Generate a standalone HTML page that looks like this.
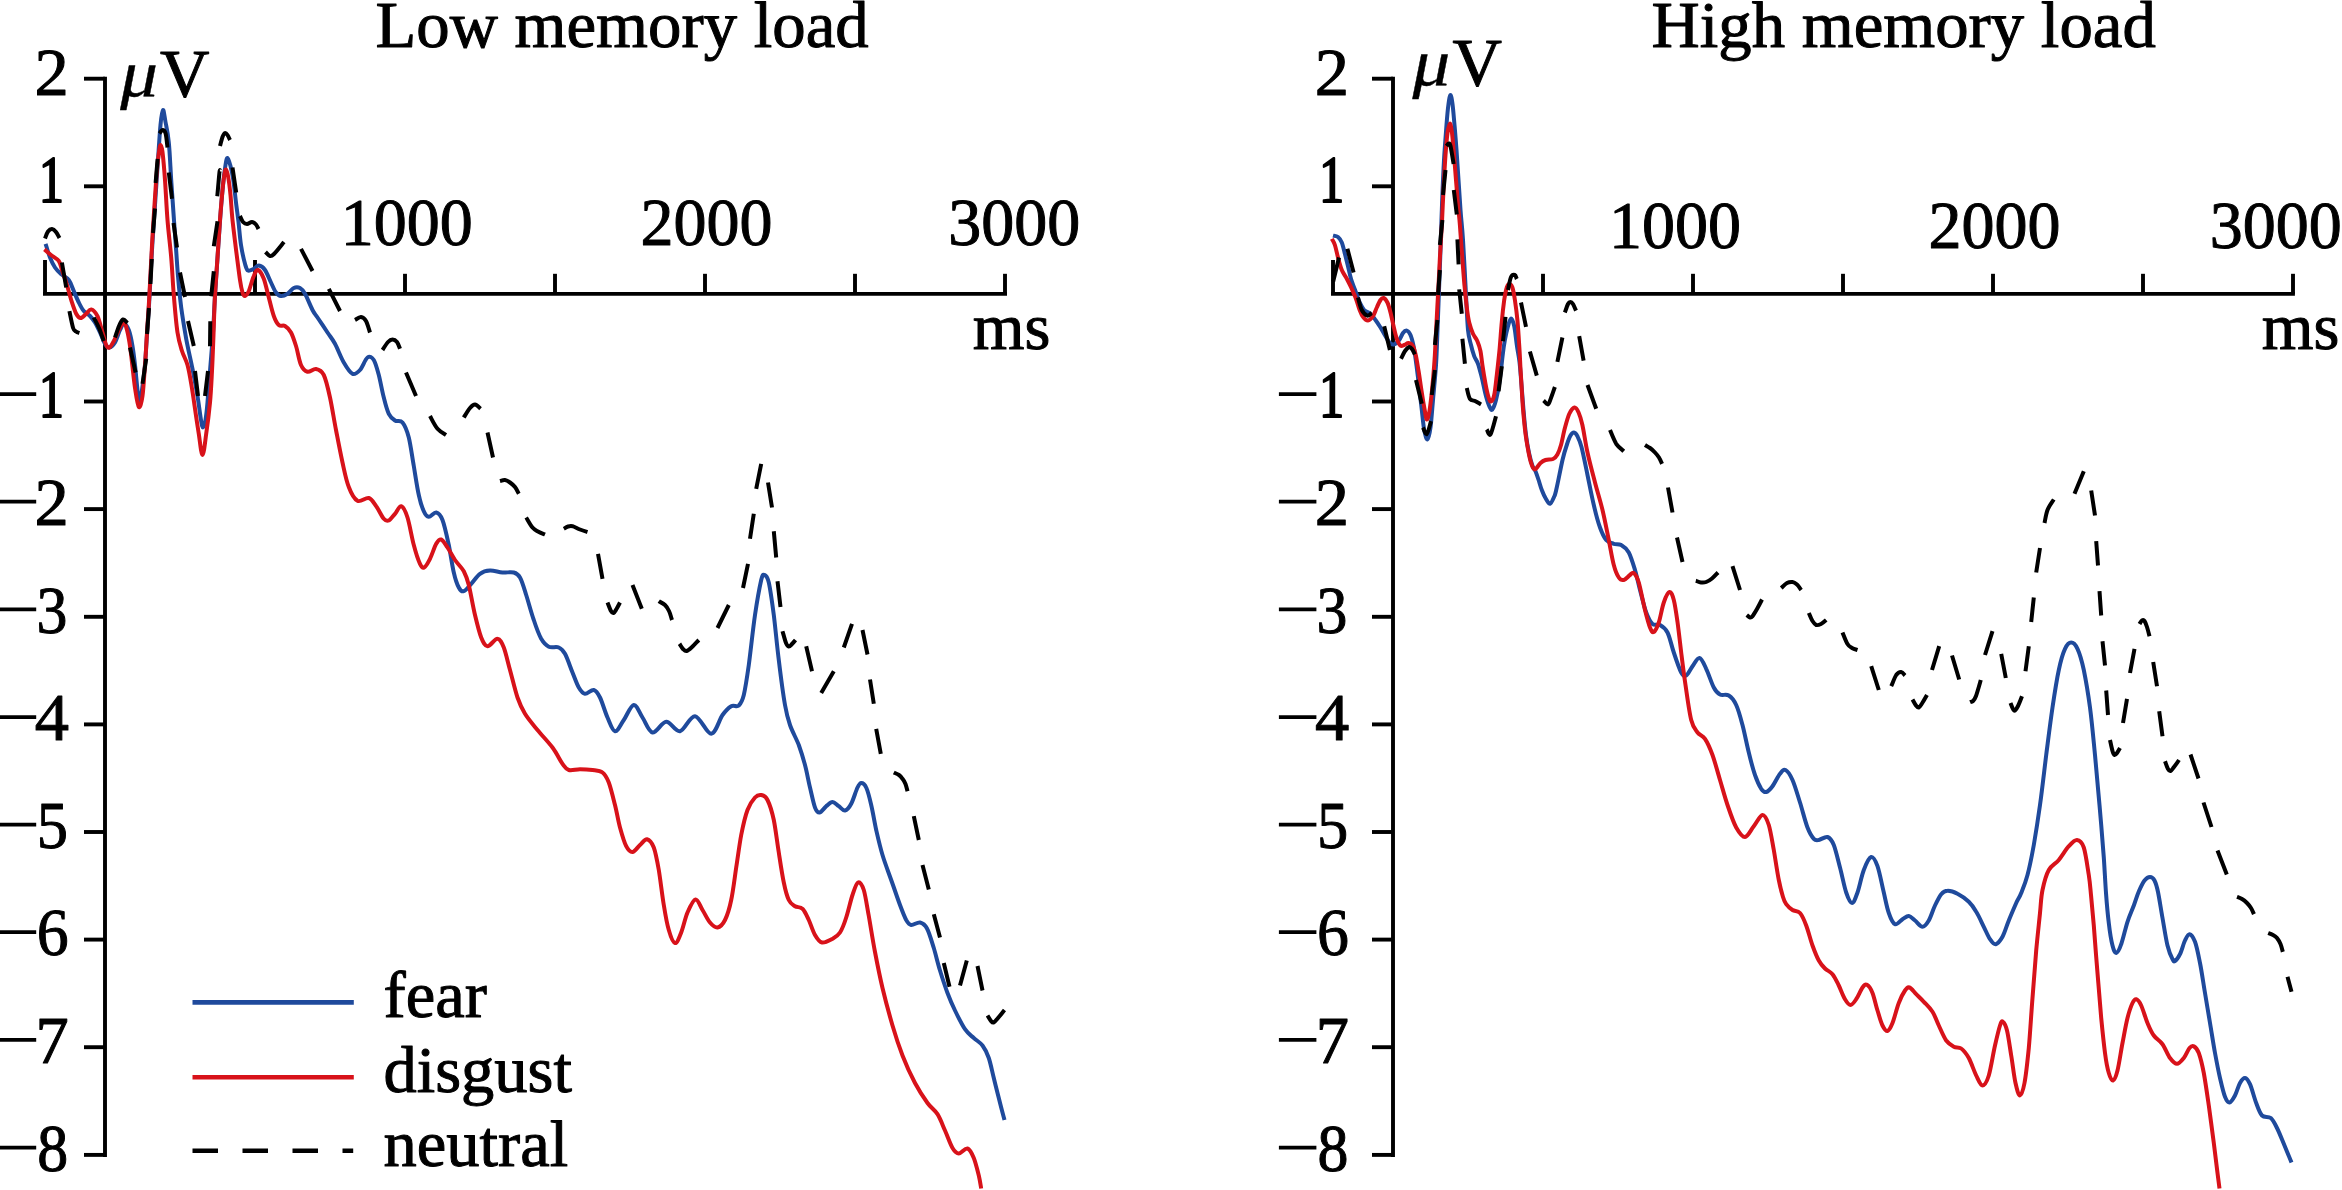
<!DOCTYPE html>
<html><head><meta charset="utf-8"><title>ERP</title>
<style>html,body{margin:0;padding:0;background:#fff;overflow:hidden}svg{display:block;}</style>
</head><body>
<svg width="2342" height="1190" viewBox="0 0 2342 1190">
<rect width="2342" height="1190" fill="#fff"/>
<g fill="none" stroke="#000" stroke-width="3.9" stroke-linecap="butt">
<path d="M105 76.8V1157" />
<path d="M43 293.9H1007" />
<path d="M84 78.7H105" />
<path d="M84 186.3H105" />
<path d="M84 401.5H105" />
<path d="M84 509.1H105" />
<path d="M84 616.8H105" />
<path d="M84 724.4H105" />
<path d="M84 832H105" />
<path d="M84 939.6H105" />
<path d="M84 1047.2H105" />
<path d="M84 1154.9H105" />
<path d="M45 260V293.9" />
<path d="M255 260V293.9" />
<path d="M405 273.8V293.9" />
<path d="M555 273.8V293.9" />
<path d="M705 273.8V293.9" />
<path d="M855 273.8V293.9" />
<path d="M1005 273.8V293.9" />
<path d="M1393 76.8V1157" />
<path d="M1331 293.9H2294.9" />
<path d="M1372 78.7H1393" />
<path d="M1372 186.3H1393" />
<path d="M1372 401.5H1393" />
<path d="M1372 509.1H1393" />
<path d="M1372 616.8H1393" />
<path d="M1372 724.4H1393" />
<path d="M1372 832H1393" />
<path d="M1372 939.6H1393" />
<path d="M1372 1047.2H1393" />
<path d="M1372 1154.9H1393" />
<path d="M1333 260V293.9" />
<path d="M1543 273.8V293.9" />
<path d="M1693 273.8V293.9" />
<path d="M1843 273.8V293.9" />
<path d="M1993 273.8V293.9" />
<path d="M2143 273.8V293.9" />
<path d="M2293 273.8V293.9" />
</g>
<g font-family="'Liberation Serif', serif" font-size="66.5" fill="#000" stroke="#000" stroke-width="1.0" stroke-linejoin="round">
<text transform="translate(68.7 94.5) scale(1.03 1.005)" text-anchor="end">2</text>
<text transform="translate(64.1 202.1) scale(0.76 1.005)" text-anchor="end" stroke-width="2">1</text>
<text transform="translate(64.1 417.3) scale(0.76 1.005)" text-anchor="end" stroke-width="2">1</text>
<path stroke-width="3.75" d="M-1.3 394.1H36.2" />
<text transform="translate(68.7 524.9) scale(1.03 1.005)" text-anchor="end">2</text>
<path stroke-width="3.75" d="M-1.3 501.7H36.2" />
<text transform="translate(67.3 632.6) scale(0.93 1.005)" text-anchor="end">3</text>
<path stroke-width="3.75" d="M-1.3 609.4H36.2" />
<text transform="translate(69 740.2) scale(1.03 1.005)" text-anchor="end">4</text>
<path stroke-width="3.75" d="M-1.3 717H36.2" />
<text transform="translate(68 847.8) scale(0.94 1.005)" text-anchor="end">5</text>
<path stroke-width="3.75" d="M-1.3 824.6H36.2" />
<text transform="translate(68.7 955.4) scale(0.96 1.005)" text-anchor="end">6</text>
<path stroke-width="3.75" d="M-1.3 932.2H36.2" />
<text transform="translate(68.7 1063) scale(1.0 1.005)" text-anchor="end">7</text>
<path stroke-width="3.75" d="M-1.3 1039.8H36.2" />
<text transform="translate(68.2 1170.7) scale(0.93 1.005)" text-anchor="end">8</text>
<path stroke-width="3.75" d="M-1.3 1147.5H36.2" />
<text transform="translate(1348.9 94.5) scale(1.03 1.005)" text-anchor="end">2</text>
<text transform="translate(1344.3 202.1) scale(0.76 1.005)" text-anchor="end" stroke-width="2">1</text>
<text transform="translate(1344.3 417.3) scale(0.76 1.005)" text-anchor="end" stroke-width="2">1</text>
<path stroke-width="3.75" d="M1278.9 394.1H1316.4" />
<text transform="translate(1348.9 524.9) scale(1.03 1.005)" text-anchor="end">2</text>
<path stroke-width="3.75" d="M1278.9 501.7H1316.4" />
<text transform="translate(1347.5 632.6) scale(0.93 1.005)" text-anchor="end">3</text>
<path stroke-width="3.75" d="M1278.9 609.4H1316.4" />
<text transform="translate(1349.2 740.2) scale(1.03 1.005)" text-anchor="end">4</text>
<path stroke-width="3.75" d="M1278.9 717H1316.4" />
<text transform="translate(1348.2 847.8) scale(0.94 1.005)" text-anchor="end">5</text>
<path stroke-width="3.75" d="M1278.9 824.6H1316.4" />
<text transform="translate(1348.9 955.4) scale(0.96 1.005)" text-anchor="end">6</text>
<path stroke-width="3.75" d="M1278.9 932.2H1316.4" />
<text transform="translate(1348.9 1063) scale(1.0 1.005)" text-anchor="end">7</text>
<path stroke-width="3.75" d="M1278.9 1039.8H1316.4" />
<text transform="translate(1348.4 1170.7) scale(0.93 1.005)" text-anchor="end">8</text>
<path stroke-width="3.75" d="M1278.9 1147.5H1316.4" />
<text transform="translate(375.5 46.8) scale(1.004 1.0)">Low memory load</text>
<text transform="translate(1651.5 46.9) scale(1.004 1.0)">High memory load</text>
<text transform="translate(340.7 245) scale(0.992 1.02)">1000</text>
<text transform="translate(640.6 245) scale(0.992 1.02)">2000</text>
<text transform="translate(948.3 245) scale(0.992 1.02)">3000</text>
<text x="972.8" y="349">ms</text>
<text transform="translate(1609 248.2) scale(0.992 1.02)">1000</text>
<text transform="translate(1928.5 248.2) scale(0.992 1.02)">2000</text>
<text transform="translate(2209.8 248.2) scale(0.992 1.02)">3000</text>
<text x="2261.7" y="348.5">ms</text>
<text transform="translate(120.3 95.6) scale(1.13 1.0)" font-style="italic" stroke-width="0.4">μ</text>
<text transform="translate(160 95.6) scale(1.03 1.03)">V</text>
<text transform="translate(1412.4 84.8) scale(1.13 1.0)" font-style="italic" stroke-width="0.4">μ</text>
<text transform="translate(1452.4 84.8) scale(1.03 1.03)">V</text>
<text x="383.5" y="1017.2">fear</text>
<text x="383.5" y="1091.8">disgust</text>
<text x="383.5" y="1166.2">neutral</text>
</g>
<g fill="none" stroke-width="4.0" stroke-linejoin="round" stroke-linecap="butt">
<path stroke="#1f4a9c" d="M45.6 243.8C46.3 246 48.4 253.5 50 257.5C51.6 261.5 53.2 264.8 55 267.5C56.8 270.2 58.7 271.9 61 274C63.3 276.1 66.6 277.2 68.8 280C70.9 282.8 72.1 287.2 73.8 291C75.4 294.8 77.1 299.2 78.8 302.5C80.4 305.8 81.9 308.8 83.8 311C85.6 313.2 88.1 314.1 90 316C91.9 317.9 93.3 319.8 95 322.5C96.7 325.2 98.3 329 100 332.5C101.7 336 103.4 341.2 105 343.8C106.6 346.2 107.7 347.7 109.4 347.5C111.1 347.3 113.2 345.4 115 342.5C116.8 339.6 118.5 333.1 120 330C121.5 326.9 122.3 323.8 123.8 323.8C125.2 323.8 127.3 326.3 128.8 330C130.2 333.7 131.5 340.2 132.5 346C133.5 351.8 134.2 357.7 135 365C135.8 372.3 136.8 384 137.5 390C138.2 396 138.7 401 139.4 401C140.2 401 141.1 396 142 390C142.9 384 144.2 374.2 145 365C145.8 355.8 146.2 346.3 147 335C147.8 323.7 148.7 311.2 149.5 297C150.3 282.8 151.1 265.3 152 250C152.9 234.7 154 220 155 205C156 190 157.1 173.3 158 160C158.9 146.7 159.7 133.3 160.5 125C161.3 116.7 162.2 110.5 163 110C163.8 109.5 164.5 116.6 165.5 122C166.5 127.4 167.9 132.8 168.8 142.5C169.8 152.2 170.4 167.5 171.2 180C172 192.5 173 205.7 173.8 217.5C174.6 229.3 175.6 241.2 176.2 251C176.9 260.8 177.2 266.6 178 276C178.8 285.4 179.9 297 181.2 307.5C182.6 318 184.4 328.5 186.2 338.8C188.1 349 190.6 359.5 192.5 369C194.4 378.5 196.1 387.5 197.5 396C198.9 404.5 200.1 414.8 201 420C201.9 425.2 202.2 427.5 203 427.5C203.8 427.5 204.8 424.2 205.5 420C206.2 415.8 206.8 410.7 207.5 402.5C208.2 394.3 209.1 382.6 210 371C210.9 359.4 212.2 345.5 213 333C213.8 320.5 214.2 308.5 215 296C215.8 283.5 216.7 270.5 217.5 258C218.3 245.5 219.1 233.2 220 221C220.9 208.8 222.1 194.3 223 185C223.9 175.7 224.8 169.5 225.5 165C226.2 160.5 226.7 157.8 227.5 158C228.3 158.2 229.5 162.3 230.5 166C231.5 169.7 232.3 173.5 233.3 180C234.3 186.5 235.4 198 236.3 205C237.2 212 237.7 215.3 238.5 222C239.3 228.7 239.9 238 241 245C242.1 252 243.8 259.5 245 263.8C246.2 268 246.5 269.8 248 270.6C249.5 271.4 252 269.6 253.8 268.8C255.5 267.9 256.9 265.4 258.8 265.6C260.6 265.8 263 267.2 265 270C267 272.8 269.2 278.8 271 282.5C272.8 286.2 274.3 290.2 276 292.5C277.7 294.8 279.1 295.8 281 296C282.9 296.2 285.4 295.1 287.5 293.8C289.6 292.4 291.7 289 293.8 288C295.8 287 298.1 287 300 288C301.9 289 302.9 290.1 305 293.8C307.1 297.4 310.4 306 312.5 310C314.6 314 315 313.8 317.5 317.5C320 321.2 324.6 328.1 327.5 332.5C330.4 336.9 332.3 338.8 335 343.8C337.7 348.8 340.8 357.5 343.8 362.5C346.7 367.5 349.8 372.5 352.5 373.8C355.2 375 357.5 372.7 360 370C362.5 367.3 365.2 359.2 367.5 357.5C369.8 355.8 371.9 357.1 373.8 360C375.6 362.9 377.1 368.8 378.8 375C380.4 381.2 382.1 391 383.8 397.5C385.4 404 386.9 409.9 388.8 413.8C390.6 417.6 392.7 419 395 420.5C397.3 422 400.2 419.7 402.5 422.5C404.8 425.3 406.9 430.2 408.8 437.5C410.6 444.8 412.1 456.4 413.8 466C415.4 475.6 417.1 487.5 418.8 495C420.4 502.5 422.1 507.6 423.8 511.2C425.4 514.9 426.7 516.5 428.8 516.8C430.8 517 434 512 436.2 512.5C438.5 513 440.4 514.6 442.5 520C444.6 525.4 446.9 536.2 448.8 545C450.6 553.8 452.1 565.4 453.8 572.5C455.4 579.6 457.1 584.4 458.8 587.5C460.4 590.6 461.7 591.9 463.8 591.2C465.8 590.6 468.5 586.7 471.2 583.8C474 580.8 476.9 576 480 573.8C483.1 571.5 486.2 570.7 490 570.5C493.8 570.3 498.5 572.2 502.5 572.5C506.5 572.8 510.8 571.7 513.8 572.5C516.7 573.3 517.9 573.8 520 577.5C522.1 581.2 524 587.9 526.2 595C528.5 602.1 531.2 612.7 533.8 620C536.2 627.3 538.8 634.3 541.2 638.8C543.8 643.2 545.8 645.3 548.8 646.8C551.7 648.2 556 646.3 558.8 647.5C561.5 648.7 562.7 649.6 565 653.8C567.3 657.9 570.2 666.9 572.5 672.5C574.8 678.1 576.7 684 578.8 687.5C580.8 691 582.5 693.3 585 693.8C587.5 694.2 591.2 689.4 593.8 690C596.2 690.6 597.7 692.9 600 697.5C602.3 702.1 605 711.9 607.5 717.5C610 723.1 612.3 730.8 615 731.2C617.7 731.7 620.6 724.4 623.8 720C626.9 715.6 630.6 705.4 633.8 705C636.9 704.6 639.4 712.9 642.5 717.5C645.6 722.1 648.5 731.8 652.5 732.5C656.5 733.2 661.7 722 666.2 721.8C670.8 721.5 675.2 732.2 680 731.2C684.8 730.3 689.8 715.8 695 716.2C700.2 716.7 706.7 734 711.2 733.8C715.8 733.5 719.2 719.6 722.5 715C725.8 710.4 728.5 707.8 731.2 706.2C734 704.7 736.7 707.4 738.8 705.5C740.8 703.6 742.1 701.8 743.8 695C745.4 688.2 746.9 678.3 748.8 665C750.6 651.7 752.9 629.2 755 615C757.1 600.8 759.7 586.7 761.2 580C762.8 573.3 763.2 574.6 764.5 575C765.8 575.4 767.2 575.8 768.8 582.5C770.3 589.2 772.1 602.1 773.8 615C775.4 627.9 776.9 645 778.8 660C780.6 675 783.1 694.2 785 705C786.9 715.8 787.7 718.3 790 725C792.3 731.7 796.2 738.3 798.8 745C801.2 751.7 803.1 757.9 805 765C806.9 772.1 808.3 780.4 810 787.5C811.7 794.6 813.4 803.3 815 807.5C816.6 811.7 817.6 812.7 819.5 812.5C821.4 812.3 824.1 808 826.2 806.2C828.4 804.5 830.4 802 832.5 802C834.6 802 836.7 804.8 838.8 806.2C840.8 807.7 842.9 810.9 845 810.5C847.1 810.1 849.2 807.6 851.2 803.8C853.3 799.9 855.8 791 857.5 787.5C859.2 784 859.8 783 861.2 783C862.7 783 864.6 783.8 866.2 787.5C867.9 791.2 869.6 797.9 871.2 805C872.9 812.1 874.4 821.7 876.2 830C878.1 838.3 880 846.7 882.5 855C885 863.3 888.3 871.7 891.2 880C894.2 888.3 897.5 898.3 900 905C902.5 911.7 904.4 916.7 906.2 920C908.1 923.3 909 924.6 911.2 925C913.5 925.4 917.4 921.9 920 922.5C922.6 923.1 924.7 924.2 927 928.5C929.3 932.8 931.6 941 933.8 948C935.9 955 937.7 963 940 970.5C942.3 978 945 986.3 947.5 993C950 999.7 952.1 1004.5 955 1010.5C957.9 1016.5 961.9 1024.7 965 1029.2C968.1 1033.8 970.8 1035.3 973.8 1038C976.7 1040.7 980 1042.2 982.5 1045.5C985 1048.8 986.9 1052.6 988.8 1058C990.6 1063.4 992.1 1071.3 993.8 1078C995.4 1084.7 997 1091 998.8 1098C1000.5 1105 1003.5 1116.3 1004.5 1120"/>
<path stroke="#1f4a9c" d="M1333 235.6C1333.8 235.8 1336.5 235.8 1338 237C1339.5 238.2 1340.6 239.7 1341.8 242.5C1342.9 245.3 1343.9 249.8 1344.9 253.8C1345.9 257.7 1347 262.1 1348 266.2C1349 270.4 1349.8 274.6 1351 278.8C1352.2 282.9 1354.1 287.5 1355.5 291.2C1356.9 295 1357.8 298.1 1359.2 301.2C1360.7 304.4 1362.4 307.9 1364.2 310C1366.1 312.1 1368.6 312.1 1370.5 313.8C1372.4 315.4 1373.8 317.7 1375.5 320C1377.2 322.3 1378.8 324.8 1380.5 327.5C1382.2 330.2 1383.9 333.7 1385.5 336.2C1387.1 338.8 1388.4 341.6 1389.9 343C1391.4 344.4 1392.7 344.9 1394.2 344.4C1395.8 343.9 1397.8 341.9 1399.2 340C1400.7 338.1 1401.8 334.6 1403 333C1404.2 331.4 1405.5 330.3 1406.8 330.6C1408 330.9 1409.4 332.4 1410.5 335C1411.6 337.6 1412.7 341.8 1413.6 346.2C1414.5 350.8 1415.3 356.8 1416 362C1416.7 367.2 1417 369.5 1418 377.5C1419 385.5 1420.7 401.2 1421.8 410C1422.8 418.8 1423.3 425.1 1424.2 430C1425.2 434.9 1426.4 439.9 1427.4 439.5C1428.4 439.1 1429.6 434.1 1430.5 427.5C1431.4 420.9 1432.1 410.4 1433 400C1433.9 389.6 1435.2 376.7 1436 365C1436.8 353.3 1437 342.5 1437.5 330C1438 317.5 1438.5 303.3 1439 290C1439.5 276.7 1440 264.2 1440.5 250C1441 235.8 1441.4 220 1442 205C1442.6 190 1443.2 173.3 1444 160C1444.8 146.7 1445.8 134.3 1446.5 125C1447.2 115.7 1447.8 109 1448.5 104C1449.2 99 1449.8 95 1450.5 95C1451.2 95 1451.8 99 1452.5 104C1453.2 109 1453.8 117.3 1454.5 125C1455.2 132.7 1455.8 140.8 1456.5 150C1457.2 159.2 1457.8 170 1458.5 180C1459.2 190 1459.8 200 1460.5 210C1461.2 220 1462.1 225.8 1463 240C1463.9 254.2 1465.2 280 1466 295C1466.8 310 1467.2 321.7 1468 330C1468.8 338.3 1470 340.6 1471 345C1472 349.4 1473.1 353.1 1474.2 356.2C1475.4 359.4 1476.8 360.2 1478 363.8C1479.2 367.3 1480.4 372.1 1481.8 377.5C1483.1 382.9 1484.6 391.2 1486 396.2C1487.4 401.2 1488.8 405.3 1489.9 407.5C1491 409.7 1491.4 410.6 1492.4 409.4C1493.4 408.1 1494.9 404.3 1496 400C1497.1 395.7 1498.1 391.7 1499.2 383.8C1500.4 375.8 1502.1 359.8 1503 352.5C1503.9 345.2 1504.1 344.4 1504.9 340C1505.7 335.6 1507 329.8 1508 326.2C1509 322.7 1510 318.5 1511 318.5C1512 318.5 1513.3 321.8 1514.2 326.2C1515.2 330.7 1515.9 339 1516.8 345C1517.6 351 1518.7 355.3 1519.5 362C1520.3 368.7 1520.8 377 1521.5 385C1522.2 393 1522.8 401.7 1523.5 410C1524.2 418.3 1525.1 427.8 1526 435C1526.9 442.2 1527.9 447.8 1529 453C1530.1 458.2 1531.4 463 1532.5 466C1533.6 469 1534.5 468.9 1535.5 471.2C1536.5 473.6 1537.6 476.9 1538.6 480C1539.6 483.1 1540.5 486.8 1541.8 490C1543 493.2 1544.6 496.7 1546 499C1547.4 501.3 1548.7 504.1 1550 503.8C1551.3 503.4 1553 499.3 1554 497C1555 494.7 1554.8 496.2 1556.2 490C1557.7 483.8 1560.8 467.5 1562.5 460C1564.2 452.5 1565.4 449.1 1566.8 445C1568.1 440.9 1569.3 437.7 1570.5 435.6C1571.7 433.5 1572.8 432.4 1574 432.5C1575.2 432.6 1576.2 433.8 1577.4 436.2C1578.7 438.7 1579.8 440.5 1581.5 447C1583.2 453.5 1585.5 465.3 1587.5 475C1589.5 484.7 1591.7 496.2 1593.8 505C1595.8 513.8 1597.9 521.7 1600 527.5C1602.1 533.3 1604 537.3 1606.2 540C1608.5 542.7 1611.2 542.9 1613.8 543.8C1616.2 544.6 1618.8 543.5 1621.2 545C1623.8 546.5 1626.5 548.3 1628.8 552.5C1631 556.7 1633.1 563.8 1635 570C1636.9 576.2 1638.1 582.9 1640 590C1641.9 597.1 1644.2 606.8 1646.2 612.5C1648.3 618.2 1650.2 621.9 1652.5 624C1654.8 626.1 1657.5 623.6 1660 625C1662.5 626.4 1665.2 627.9 1667.5 632.5C1669.8 637.1 1671.5 645.8 1673.8 652.5C1676 659.2 1679.2 668.7 1681.2 672.5C1683.3 676.3 1684.4 676.5 1686.2 675.5C1688.1 674.5 1690.3 669.2 1692.5 666.2C1694.7 663.3 1697.2 657.6 1699.5 658C1701.8 658.4 1703.9 663.8 1706.2 668.8C1708.6 673.7 1711.5 683.2 1713.8 687.5C1716 691.8 1717.5 693.2 1720 694.5C1722.5 695.8 1726 693.8 1728.8 695.5C1731.5 697.2 1734 700.1 1736.2 705C1738.5 709.9 1740.4 717.1 1742.5 725C1744.6 732.9 1746.7 744.2 1748.8 752.5C1750.8 760.8 1752.9 769 1755 775C1757.1 781 1759.4 785.9 1761.2 788.8C1763.1 791.6 1764.4 792.4 1766.2 792C1768.1 791.6 1770.2 789.3 1772.5 786.2C1774.8 783.2 1777.8 776.5 1780 773.8C1782.2 771 1783.4 769 1785.5 770C1787.6 771 1790.1 774.6 1792.5 780C1794.9 785.4 1797.5 794.6 1800 802.5C1802.5 810.4 1805.2 821.5 1807.5 827.5C1809.8 833.5 1811.9 836.7 1813.8 838.8C1815.6 840.8 1816.5 840.3 1818.8 840C1821 839.7 1825 836.2 1827.5 837C1830 837.8 1831.7 839.9 1833.8 845C1835.8 850.1 1837.9 859.6 1840 867.5C1842.1 875.4 1844.2 886.6 1846.2 892.5C1848.2 898.4 1850.1 903 1852 903C1853.9 903 1855.5 898 1857.5 892.5C1859.5 887 1861.5 875.9 1863.8 870C1866 864.1 1869 857.6 1871.2 857C1873.5 856.4 1875.4 860.3 1877.5 866.2C1879.6 872.2 1881.9 884.7 1883.8 892.5C1885.6 900.3 1886.9 907.7 1888.8 913C1890.6 918.3 1892.7 923.2 1895 924.2C1897.3 925.3 1900.2 920.6 1902.5 919.2C1904.8 917.9 1906.7 915.8 1908.8 916C1910.8 916.2 1912.7 918.7 1915 920.5C1917.3 922.3 1920.2 926.8 1922.5 926.8C1924.8 926.8 1926.7 924 1928.8 920.5C1930.8 917 1932.9 909.9 1935 905.5C1937.1 901.1 1939.2 896.7 1941.2 894.2C1943.3 891.8 1944.8 890.8 1947.5 890.8C1950.2 890.7 1954 891.9 1957.5 893.8C1961 895.6 1965.6 898.8 1968.8 901.8C1971.9 904.8 1973.8 907.6 1976.2 911.8C1978.8 915.9 1981.5 922.2 1983.8 926.8C1986 931.3 1988 936.3 1990 939.2C1992 942.2 1993.7 944.7 1995.8 944.2C1997.8 943.8 2000.3 940.7 2002.5 936.8C2004.7 932.8 2006.5 926.1 2008.8 920.5C2011 914.9 2014.2 907.6 2016.2 903C2018.3 898.4 2019.4 897.7 2021.2 893C2023.1 888.3 2025.4 883 2027.5 875C2029.6 867 2031.7 856.7 2033.8 845C2035.8 833.3 2037.9 820 2040 805C2042.1 790 2044.2 771.2 2046.2 755C2048.3 738.8 2050.4 721.7 2052.5 707.5C2054.6 693.3 2056.7 679.8 2058.8 670C2060.8 660.2 2062.9 653.3 2065 648.8C2067.1 644.2 2069.2 642.5 2071.2 642.5C2073.3 642.5 2075.4 644.2 2077.5 648.8C2079.6 653.3 2081.7 660.2 2083.8 670C2085.8 679.8 2088.1 693.3 2090 707.5C2091.9 721.7 2093.4 738.8 2095 755C2096.6 771.2 2098 787.9 2099.5 805C2101 822.1 2102.7 842.8 2103.8 857.5C2104.8 872.2 2105.2 882.1 2106 893C2106.8 903.9 2107.7 914.2 2108.8 923C2109.8 931.8 2111.2 940.5 2112.5 945.5C2113.8 950.5 2114.8 953.2 2116.2 953C2117.7 952.8 2119.4 949.5 2121.2 944.2C2123.1 939 2125.4 928.3 2127.5 921.8C2129.6 915.2 2132.1 910.1 2134 905C2135.9 899.9 2137.2 895.1 2139 891C2140.8 886.9 2142.7 882.8 2144.5 880.5C2146.3 878.2 2148.3 877 2150 877C2151.7 877 2153.2 878 2154.5 880.5C2155.8 883 2156.7 885.8 2158 892C2159.3 898.2 2160.9 909.1 2162.5 918C2164.1 926.9 2165.8 938.6 2167.5 945.5C2169.2 952.4 2171.2 956.7 2172.5 959.2C2173.8 961.8 2173.8 961.8 2175 961C2176.2 960.2 2178.3 957.7 2180 954.2C2181.7 950.8 2183.4 943.8 2185 940.5C2186.6 937.2 2187.8 934 2189.5 934.2C2191.2 934.5 2193.2 937 2195 941.8C2196.8 946.5 2198.3 954.5 2200 963C2201.7 971.5 2203.3 983 2205 993C2206.7 1003 2208.3 1013 2210 1023C2211.7 1033 2213.3 1043.8 2215 1053C2216.7 1062.2 2218.3 1070.7 2220 1078C2221.7 1085.3 2223.4 1092.7 2225 1096.8C2226.6 1100.8 2227.8 1102.7 2229.5 1102.5C2231.2 1102.3 2233.2 1098.8 2235 1095.5C2236.8 1092.2 2238.3 1085.9 2240 1083C2241.7 1080.1 2243.3 1077.8 2245 1078C2246.7 1078.2 2248.1 1080.1 2250 1084.2C2251.9 1088.4 2254.2 1097.8 2256.2 1103C2258.2 1108.2 2259.6 1113 2262 1115.5C2264.4 1118 2268.2 1115.9 2270.8 1118C2273.2 1120.1 2274.7 1123.4 2277 1128C2279.3 1132.6 2282.1 1139.8 2284.5 1145.5C2286.9 1151.2 2290.3 1159.7 2291.5 1162.5"/>
<path stroke="#d8121a" d="M44.4 249.4C45.5 250.3 48.6 253.1 51 255C53.4 256.9 56.9 258.5 58.8 261C60.6 263.5 60.8 266.4 62 270C63.2 273.6 64.7 277.5 66.2 282.5C67.8 287.5 69.6 294.8 71.2 300C72.9 305.2 74.7 310.8 76.2 313.8C77.8 316.8 78.9 318 80.6 318C82.3 318 84.5 315.2 86.2 313.8C88 312.3 89.4 309 91.2 309.4C93.1 309.8 95.6 312.4 97.5 316.2C99.4 320.1 101 327.7 102.5 332.5C104 337.3 105.1 342.5 106.2 345C107.4 347.5 108.2 348.2 109.4 347.5C110.7 346.8 112 344.3 113.8 341C115.5 337.7 118.3 330.6 120 327.5C121.7 324.4 122.6 322.1 123.8 322.5C124.9 322.9 126 326.1 127 330C128 333.9 129.1 339.8 130 346C130.9 352.2 131.7 360 132.5 367C133.3 374 134 381.3 135 388C136 394.7 137.5 405.7 138.8 407C140 408.3 141.5 403 142.5 396C143.5 389 144.2 375.6 145 365C145.8 354.4 146.3 344.2 147 332.5C147.7 320.8 148.6 309.6 149.4 295C150.2 280.4 151.2 260 152 245C152.8 230 153.7 217.5 154.5 205C155.3 192.5 156.2 178.8 157 170C157.8 161.2 158.4 156.2 159 152C159.6 147.8 160 145 160.6 145C161.2 145 161.8 146.2 162.5 152C163.2 157.8 164.2 168.7 165 180C165.8 191.3 166.5 207.1 167.5 220C168.5 232.9 170.2 245 171.2 257.5C172.3 270 172.7 282.5 173.8 295C174.8 307.5 176.1 323.2 177.5 332.5C178.9 341.8 180.3 345.6 182 351C183.7 356.4 186 359.5 187.5 365C189 370.5 190 376.5 191.2 383.8C192.5 391 193.8 400.4 195 408.8C196.2 417.1 197.5 426 198.8 433.8C200 441.5 201.2 455 202.5 455C203.8 455 205 442.5 206.2 433.8C207.5 425 209 413 210 402.5C211 392 211.4 382.2 212 371C212.6 359.8 213 347.7 213.5 335C214 322.3 214.3 307.9 215 295C215.7 282.1 216.7 270 217.5 257.5C218.3 245 219.2 231.2 220 220C220.8 208.8 221.8 197.7 222.5 190C223.2 182.3 223.9 177.4 224.5 174C225.1 170.6 225.4 169.2 226 169.5C226.6 169.8 227.2 171.8 228 176C228.8 180.2 229.8 187.7 230.5 195C231.2 202.3 231.5 210.7 232.5 220C233.5 229.3 235 241 236.2 251C237.5 261 239 273.1 240 280C241 286.9 241.7 289.8 242.5 292.5C243.3 295.2 244 296.2 245 296C246 295.8 247.3 294.3 248.8 291C250.2 287.7 252.2 279.5 253.8 276C255.3 272.5 256.3 269.5 258 270C259.7 270.5 262 274.2 263.8 278.8C265.5 283.3 267.1 291.3 268.8 297.5C270.4 303.7 272.1 311.4 273.8 316C275.4 320.6 276.9 323.3 278.8 325C280.6 326.7 283 324.8 285 326C287 327.2 289.2 329.2 291 332.5C292.8 335.8 294.3 340.6 296 346C297.7 351.4 299.1 360.7 301 365C302.9 369.3 305 371.1 307.5 371.8C310 372.4 313.3 368.5 316 369C318.7 369.5 321.4 370.2 323.8 375C326.1 379.8 328 388.3 330 397.5C332 406.7 333.9 419.2 336 430C338.1 440.8 340.4 453 342.5 462.5C344.6 472 346.2 480.6 348.8 487C351.2 493.4 354.2 498.9 357.5 500.8C360.8 502.6 365.6 497.1 368.8 498C371.9 498.9 373.8 502.8 376.2 506.2C378.8 509.7 381.7 516.4 383.8 518.8C385.8 521.1 386.9 521.3 388.8 520.5C390.6 519.7 392.9 516.1 395 513.8C397.1 511.4 399.2 505.6 401.2 506.2C403.3 506.9 405.4 511 407.5 517.5C409.6 524 411.7 537.3 413.8 545C415.8 552.7 418.2 560 420 563.8C421.8 567.5 422.6 568.3 424.2 567.5C425.9 566.7 428 562.7 430 558.8C432 554.8 434.4 547 436.2 543.8C438.1 540.5 439.4 538.9 441.2 539.5C443.1 540.1 445.2 544.1 447.5 547.5C449.8 550.9 452.3 556 455 560C457.7 564 461.5 567.1 463.8 571.2C466 575.4 466.9 577.7 468.8 585C470.6 592.3 472.9 606.2 475 615C477.1 623.8 479.2 632.3 481.2 637.5C483.3 642.7 484.8 646 487.5 646.2C490.2 646.5 494.8 638.5 497.5 638.8C500.2 639 501.7 642.3 503.8 647.5C505.8 652.7 507.7 661.7 510 670C512.3 678.3 515 690.2 517.5 697.5C520 704.8 521.7 708.3 525 713.8C528.3 719.2 532.9 724.4 537.5 730C542.1 735.6 548.3 741.9 552.5 747.5C556.7 753.1 559.8 760 562.5 763.8C565.2 767.5 565.8 769.1 568.8 770C571.7 770.9 576 769.2 580 769.2C584 769.2 588.8 769.5 592.5 770C596.2 770.5 599.8 770.4 602.5 772.5C605.2 774.6 606.7 777.1 608.8 782.5C610.8 787.9 613.1 797.5 615 805C616.9 812.5 618.1 820.6 620 827.5C621.9 834.4 624.2 842.2 626.2 846.2C628.3 850.3 630.2 852.2 632.5 852C634.8 851.8 637.6 847.1 640 845C642.4 842.9 644.7 838.8 647 839.2C649.3 839.7 651.8 842.4 653.8 847.5C655.7 852.6 657.1 860.4 658.8 870C660.4 879.6 662.1 895 663.8 905C665.4 915 666.9 923.7 668.8 930C670.6 936.3 672.9 942.6 675 943C677.1 943.4 679.2 937.6 681.2 932.5C683.3 927.4 685.1 918 687.5 912.5C689.9 907 693 899.9 695.5 899.5C698 899.1 700.1 906.2 702.5 910C704.9 913.8 707.5 919.6 710 922.5C712.5 925.4 715 927.9 717.5 927.5C720 927.1 722.7 924.6 725 920C727.3 915.4 729.4 908.8 731.2 900C733.1 891.2 734.6 878.3 736.2 867.5C737.9 856.7 739.4 844.6 741.2 835C743.1 825.4 745.2 816.2 747.5 810C749.8 803.8 752.7 800 755 797.5C757.3 795 759.2 794.6 761.2 795C763.3 795.4 765.4 795.8 767.5 800C769.6 804.2 771.9 811.2 773.8 820C775.6 828.8 777.1 842.1 778.8 852.5C780.4 862.9 782.1 874.6 783.8 882.5C785.4 890.4 786.9 896 788.8 900C790.6 904 792.7 904.8 795 906.2C797.3 907.7 800.2 906.5 802.5 908.8C804.8 911 806.7 915.6 808.8 920C810.8 924.4 812.8 931.2 815 935C817.2 938.8 819.1 941.9 822 942.5C824.9 943.1 829.5 940.4 832.5 938.8C835.5 937.1 837.7 936 840 932.5C842.3 929 844.2 923.8 846.2 917.5C848.3 911.2 850.5 900.8 852.5 895C854.5 889.2 856.1 883.3 858 882.5C859.9 881.7 862 884.4 863.8 890C865.5 895.6 866.9 905.7 868.8 916C870.6 926.3 872.7 940 875 952C877.3 964 879.6 975.8 882.5 988C885.4 1000.2 889.2 1014.2 892.5 1025.5C895.8 1036.8 898.8 1045.9 902.5 1055.5C906.2 1065.1 910.8 1075.1 915 1083C919.2 1090.9 923.8 1097.8 927.5 1103C931.2 1108.2 934.6 1109.7 937.5 1114.2C940.4 1118.8 942.5 1124.9 945 1130.5C947.5 1136.1 950.2 1144.2 952.5 1148C954.8 1151.8 956.2 1153.4 958.8 1153.5C961.2 1153.6 965 1147.8 967.5 1148.5C970 1149.2 971.9 1153.5 973.8 1158C975.6 1162.5 977.5 1170.4 978.8 1175.5C980 1180.6 980.8 1186.3 981.2 1188.5"/>
<path stroke="#d8121a" d="M1331.8 238.8C1332.3 239.8 1333.9 241.9 1334.9 245C1335.9 248.1 1336.9 253.3 1338 257.5C1339.1 261.7 1340.3 266.5 1341.8 270C1343.2 273.5 1345.1 275.6 1346.8 278.8C1348.4 281.9 1350.3 285.6 1351.8 288.8C1353.2 291.9 1354.2 294.2 1355.5 297.5C1356.8 300.8 1358 305.5 1359.2 308.8C1360.5 312 1361.5 314.9 1363 316.9C1364.5 318.9 1366.3 320.7 1368 320.6C1369.7 320.5 1371.5 318.4 1373 316.2C1374.5 314.1 1375.5 310.2 1376.8 307.5C1378 304.8 1379.4 301.6 1380.5 300C1381.6 298.4 1382.4 297.6 1383.6 298C1384.8 298.4 1386.2 300.1 1387.4 302.5C1388.6 304.9 1389.5 308.5 1390.5 312.5C1391.5 316.5 1392.6 321.9 1393.6 326.2C1394.6 330.6 1395.6 335.5 1396.8 338.8C1397.9 342 1399.2 344.6 1400.5 345.6C1401.8 346.6 1402.9 345.4 1404.2 345C1405.6 344.6 1407.1 342.8 1408.6 343C1410.1 343.2 1411.8 344 1413 346.2C1414.2 348.5 1415.1 352.1 1416 356.2C1416.9 360.4 1417.6 365.2 1418.6 371.2C1419.6 377.3 1420.7 385.8 1421.8 392.5C1422.8 399.2 1424.1 406.8 1424.9 411.2C1425.7 415.8 1426 419.3 1426.8 419.5C1427.5 419.7 1428.4 417 1429.2 412.5C1430.1 408 1430.9 400.4 1431.8 392.5C1432.6 384.6 1433.5 375 1434.2 365C1435 355 1435.4 344.2 1436 332.5C1436.6 320.8 1437.3 307.5 1438 295C1438.7 282.5 1439.3 269 1439.9 257.5C1440.5 246 1441.2 237.2 1441.8 226C1442.3 214.8 1442.9 201.8 1443.5 190C1444.1 178.2 1444.8 164.5 1445.5 155C1446.2 145.5 1446.8 138.2 1447.5 133C1448.2 127.8 1449.2 123.5 1449.9 123.5C1450.7 123.5 1451.3 127.8 1452 133C1452.7 138.2 1453.3 147.2 1454 155C1454.7 162.8 1455.3 171.7 1456 180C1456.7 188.3 1457.3 197.5 1458 205C1458.7 212.5 1459.3 217.3 1459.9 225C1460.5 232.7 1461 241.7 1461.8 251.2C1462.5 260.8 1463.4 273.1 1464.2 282.5C1465.1 291.9 1465.9 300.8 1466.8 307.5C1467.6 314.2 1468.2 318.1 1469.2 322.5C1470.3 326.9 1471.6 330.6 1473 333.8C1474.4 336.9 1476.2 338.3 1477.4 341.2C1478.7 344.2 1479.7 347.3 1480.5 351.2C1481.3 355.2 1481.6 359.6 1482.4 365C1483.2 370.4 1484.5 378.3 1485.5 383.8C1486.5 389.2 1487.7 394.5 1488.6 397.5C1489.5 400.5 1490.1 401.9 1491 401.5C1491.9 401.1 1493.3 399.4 1494.2 395C1495.2 390.6 1495.9 382.5 1496.8 375C1497.6 367.5 1498.7 358.8 1499.5 350C1500.3 341.2 1501 330.3 1501.8 322C1502.5 313.7 1503.4 305.8 1504.2 300C1505.1 294.2 1505.9 290.2 1506.8 287.5C1507.6 284.8 1508.3 284 1509.2 284C1510.2 284 1511.5 284.8 1512.4 287.5C1513.3 290.2 1514.1 294.6 1514.9 300C1515.7 305.4 1516.7 312.5 1517.4 320C1518.1 327.5 1518.7 336.9 1519.2 345C1519.8 353.1 1520.1 361.9 1520.5 368.6C1520.9 375.3 1521.1 378.3 1521.5 385C1521.9 391.7 1522.3 400.6 1523 408.8C1523.7 416.9 1524.6 426.5 1525.5 433.8C1526.4 441 1527.6 447.3 1528.6 452.5C1529.6 457.7 1530.7 462.2 1531.8 465C1532.8 467.8 1533.4 469.7 1534.9 469.4C1536.4 469.1 1538.7 464.6 1540.5 463C1542.3 461.4 1543.4 460.7 1545.5 460C1547.6 459.3 1551 459.9 1553 459C1555 458.1 1556.1 456.7 1557.4 454.4C1558.7 452.1 1559.8 449.4 1561 445C1562.2 440.6 1563.5 433.2 1564.9 428C1566.3 422.8 1567.7 417.4 1569.2 414C1570.8 410.6 1572.9 407.8 1574.5 407.5C1576.1 407.2 1577.3 409.6 1578.6 412.5C1579.9 415.4 1580.9 418.3 1582.4 425C1583.9 431.7 1585.4 442.9 1587.5 452.5C1589.6 462.1 1592.5 472.9 1595 482.5C1597.5 492.1 1600.2 500.4 1602.5 510C1604.8 519.6 1606.9 530.8 1608.8 540C1610.6 549.2 1612.1 558.8 1613.8 565C1615.4 571.2 1617.1 575 1618.8 577.5C1620.4 580 1621.9 580.4 1623.8 580C1625.6 579.6 1628.3 576.2 1630 575C1631.7 573.8 1632.3 571.8 1633.8 573C1635.2 574.2 1636.9 576.3 1638.8 582.5C1640.6 588.7 1643.1 602.5 1645 610C1646.9 617.5 1648.5 623.8 1650 627.5C1651.5 631.2 1652.3 632.8 1653.8 632C1655.2 631.2 1657.1 627.4 1658.8 622.5C1660.4 617.6 1662 607.6 1663.8 602.5C1665.5 597.4 1667.8 592.4 1669.5 592C1671.2 591.6 1672.4 595 1673.8 600C1675.1 605 1676.2 612.8 1677.5 622C1678.8 631.2 1680.2 644.5 1681.5 655C1682.8 665.5 1683.9 674.2 1685.5 685C1687.1 695.8 1689.2 712.1 1691.2 720C1693.2 727.9 1695.2 729.4 1697.5 732.5C1699.8 735.6 1702.5 735 1705 738.8C1707.5 742.5 1710 748.1 1712.5 755C1715 761.9 1717.5 771.7 1720 780C1722.5 788.3 1724.8 797.1 1727.5 805C1730.2 812.9 1733.3 822.2 1736.2 827.5C1739.2 832.8 1742.1 837.2 1745 837C1747.9 836.8 1750.8 829.9 1753.8 826.2C1756.7 822.6 1760 815.2 1762.5 815C1765 814.8 1766.9 819.2 1768.8 825C1770.6 830.8 1772.1 840.8 1773.8 850C1775.4 859.2 1777.2 872.2 1778.8 880C1780.3 887.8 1781.8 893 1783 897C1784.2 901 1784.7 902.1 1786.2 904.2C1787.8 906.4 1790.2 908.5 1792.5 910C1794.8 911.5 1797.7 910.4 1800 913C1802.3 915.6 1804.2 920.1 1806.2 925.5C1808.3 930.9 1810.4 939.7 1812.5 945.5C1814.6 951.3 1816.7 956.7 1818.8 960.5C1820.8 964.3 1822.7 966.2 1825 968.5C1827.3 970.8 1830.2 971.4 1832.5 974.2C1834.8 977.1 1836.7 981.3 1838.8 985.5C1840.8 989.7 1843 996 1845 999.2C1847 1002.5 1848.6 1005 1850.5 1005C1852.4 1005 1854.2 1002.2 1856.2 999.2C1858.2 996.3 1860.7 989.9 1862.5 987.5C1864.3 985.1 1865.3 983.8 1867 984.8C1868.7 985.7 1870.8 988.7 1872.5 993C1874.2 997.3 1875.8 1005.1 1877.5 1010.5C1879.2 1015.9 1880.8 1022.1 1882.5 1025.5C1884.2 1028.9 1885.8 1031.4 1887.5 1031C1889.2 1030.6 1890.6 1027.7 1892.5 1023C1894.4 1018.3 1896.7 1008.4 1898.8 1003C1900.8 997.6 1903.2 993.1 1905 990.5C1906.8 987.9 1907.6 986.9 1909.5 987.5C1911.4 988.1 1913.9 991.9 1916.2 994.2C1918.6 996.6 1921 998.8 1923.8 1001.8C1926.5 1004.7 1930 1007.8 1932.5 1011.8C1935 1015.7 1936.5 1020.7 1938.8 1025.5C1941 1030.3 1943.8 1037 1946.2 1040.5C1948.8 1044 1951.2 1045.4 1953.8 1046.8C1956.2 1048.1 1958.8 1046.6 1961.2 1048.5C1963.8 1050.4 1966.2 1053.5 1968.8 1058C1971.2 1062.5 1974 1070.9 1976.2 1075.5C1978.5 1080.1 1980.4 1085.5 1982.5 1085.5C1984.6 1085.5 1986.7 1082.2 1988.8 1075.5C1990.8 1068.8 1993.1 1053.8 1995 1045.5C1996.9 1037.2 1998.7 1029.5 2000 1025.5C2001.3 1021.5 2001.8 1020.9 2003 1021.8C2004.2 1022.6 2005.6 1024.9 2007 1030.5C2008.4 1036.1 2009.8 1046.8 2011.2 1055.5C2012.7 1064.2 2014 1076.3 2015.5 1083C2017 1089.7 2018.5 1095.5 2020 1095.5C2021.5 1095.5 2023 1090.9 2024.5 1083C2026 1075.1 2027.4 1062.2 2028.8 1048C2030.1 1033.8 2031.2 1014.2 2032.5 998C2033.8 981.8 2035 964.7 2036.2 950.5C2037.5 936.3 2039 923.1 2040 913C2041 902.9 2041 897.2 2042.5 890C2044 882.8 2046 875 2048.8 870C2051.5 865 2055.4 864 2058.8 860C2062.1 856 2065.7 849.6 2068.8 846.2C2071.8 842.9 2074.5 839.8 2077 840C2079.5 840.2 2081.8 841.7 2083.8 847.5C2085.7 853.3 2087.5 867.1 2088.8 875C2090 882.9 2090.2 886.6 2091 895C2091.8 903.4 2092.7 912.5 2093.8 925.5C2094.8 938.5 2096.2 957.6 2097.5 973C2098.8 988.4 2100 1004.7 2101.2 1018C2102.5 1031.3 2103.8 1043.8 2105 1053C2106.2 1062.2 2107.4 1068.4 2108.8 1073C2110.1 1077.6 2111.5 1080.9 2113 1080.5C2114.5 1080.1 2115.9 1076.8 2117.5 1070.5C2119.1 1064.2 2120.8 1051.8 2122.5 1043C2124.2 1034.2 2125.8 1024.7 2127.5 1018C2129.2 1011.3 2131 1006.1 2132.5 1003C2134 999.9 2134.8 998.8 2136.2 999.2C2137.7 999.7 2139.4 1001.5 2141.2 1005.5C2143.1 1009.5 2145.4 1018 2147.5 1023C2149.6 1028 2151.2 1032 2153.8 1035.5C2156.2 1039 2159.8 1040.5 2162.5 1044.2C2165.2 1048 2167.6 1054.8 2170 1058C2172.4 1061.2 2174.7 1063.8 2177 1063.8C2179.3 1063.8 2181.7 1060.6 2183.8 1058C2185.8 1055.4 2187.8 1050 2189.5 1048C2191.2 1046 2192.2 1045.4 2193.8 1046.2C2195.3 1047.1 2197.1 1048.5 2198.8 1053C2200.4 1057.5 2202.1 1064.2 2203.8 1073C2205.4 1081.8 2207.1 1093.8 2208.8 1105.5C2210.4 1117.2 2212.3 1131.8 2213.8 1143C2215.2 1154.2 2216.5 1165.4 2217.5 1173C2218.5 1180.6 2219.2 1185.9 2219.5 1188.5"/>
<path stroke="#000" stroke-width="4" d="M45 238.5C45.5 237.3 46.8 233.1 48 231.5C49.2 229.9 50.7 228.9 52 229C53.3 229.1 54.8 230.5 56 232C57.2 233.5 58.9 237 59.5 238M61.9 262.5L66.2 287.5M69.4 311.2C70 314 72 324.6 73.1 328C74.2 331.4 75 330.7 76 331.5C77 332.3 78.8 332.8 79.4 333M93.8 317.5C94.6 319.2 97.3 324.1 99 328C100.7 331.9 103 338.8 103.8 341M115 337.5C115.7 335.6 117.7 329 119 326C120.3 323 121.6 320 123 319.5C124.4 319 126.8 322.4 127.5 323M130 347.5L135.6 372.5M142.5 383.8L146.2 358.8M147 334L149 308M150.4 284L151.8 259M153 233L155 208.5M155.6 183L157.6 158.8M159.4 133.5C159.9 132.9 161.5 130 162.5 130C163.5 130 164.8 130.6 165.6 133.5C166.4 136.4 167.2 145.2 167.5 147.5M168.8 172.5L172 198.8M173.5 223L177 247.5M180 272.5L185 297M188 321L193.8 346M195 371L198 396M205 396L208 371M210 346.2L210.3 321.2M211.2 296.2L213.8 271.2M213.8 246.2L217.5 221.2M217.3 196.2C217.7 192.2 219 176.1 219.5 172C220 167.9 220.3 171.6 220.5 171.5M220 146C220.4 144.5 221.7 139.2 222.5 137C223.3 134.8 224.2 133.3 225 133C225.8 132.7 226.7 133.8 227.5 135C228.3 136.2 229.6 139.2 230 140M232.5 167.5L236.2 192.5M240 216C240.5 217 241.8 220.7 243 222C244.2 223.3 245.5 224 247 224C248.5 224 250.5 221.9 252 222C253.5 222.1 254.9 223.3 256 224.5C257.1 225.7 258.1 228.2 258.5 229M265.5 252C266.2 252.7 268.6 255.7 270 256C271.4 256.3 271.7 256.3 274 254C276.3 251.7 282.3 244 284 242M301 248.8L312.5 271M328.8 288.8L340 311M355 320C356 319.5 359.2 316.8 361 317C362.8 317.2 364.5 318.4 366 321C367.5 323.6 369.3 330.6 370 332.5M382.5 350C383.4 348.7 386.3 343.8 388 342C389.7 340.2 391 339.5 392.5 339.5C394 339.5 395.8 340.5 397 342C398.2 343.5 399.5 347.6 400 348.8M406 372.5L416 396M430 416C431.2 418.1 434.8 425.6 437.5 428.8C440.2 431.9 444.6 434 446 435M463.8 417.5C464.8 415.9 468.1 410.2 470 408C471.9 405.8 473.2 404.4 475 404.5C476.8 404.6 479.6 408 480.5 408.8M487.5 432.5L493 457.5M500 481C500.8 480.8 503.3 479.8 505 480C506.7 480.2 508.3 481.3 510 482.5C511.7 483.7 513.5 485.1 515 487C516.5 488.9 518.1 492.6 518.8 493.8M526.2 517.5C527.3 519.2 530.5 525.2 532.5 527.5C534.5 529.8 535.9 530.3 538 531.5C540.1 532.7 543.8 534 545 534.5M563.8 528.8C564.5 528.4 566.5 526.9 568 526.5C569.5 526.1 570.5 525.8 572.5 526.2C574.5 526.8 577.5 528.5 580 529.5C582.5 530.5 586.2 531.6 587.5 532M598 553.8L602.5 578.8M607.5 602.5C608.1 603.9 610 609.2 611 611C612 612.8 612.6 613.3 613.5 613C614.4 612.7 615.4 610.8 616.5 609C617.6 607.2 619.4 603.6 620 602.5M632.5 585L641.8 608.8M658.8 601.2C659.8 601.9 663.3 603.4 665 605C666.7 606.6 667.8 608.5 669 611C670.2 613.5 671.5 618.5 672 620M679.5 643.8C680.1 644.6 681.8 647.8 683 649C684.2 650.2 685 651.3 686.5 651C688 650.7 690 648.8 692 647C694 645.2 697.6 641.2 698.8 640M717.5 628L728.8 605M743 588L748 563.8M750 538.8L753.8 513.8M756.2 488.8L761.2 463.8M768 482.5L772 507.5M773.8 531.2L776.2 557.5M777.5 581.2L780.5 607M782.5 631.2C783.1 633.2 785 640.5 786 643C787 645.5 787.8 646.3 788.8 646.5C789.8 646.7 790.9 645.1 792 644C793.1 642.9 794.9 640.7 795.5 640M806.2 646.2L812 671.2M821.2 693L833.8 671.2M843.8 647.5L852 623.8M862.5 630L867.5 654.5M870 679.5L873.8 703.8M876.2 728.8L880.8 753.8M893.8 772.5C894.6 772.9 897.5 774 899 775C900.5 776 901.4 777.2 902.5 778.8C903.6 780.2 904.7 781.9 905.5 784C906.3 786.1 907.2 790 907.5 791.2M913.8 816.2L918.8 840M922.5 865L928.8 889.5M933.8 914.2L940 937.5M943.8 963L949.5 986.8M960 985.5L966.8 960.5M977.5 966L982.5 990.5M987.5 1015.5C988.1 1016.4 990 1019.8 991 1021C992 1022.2 992.6 1023 993.8 1022.5C994.9 1022 996.2 1020.1 998 1018C999.8 1015.9 1003.4 1011.3 1004.5 1010"/>
<path stroke="#000" stroke-width="4" d="M1333.2 281.5L1339 257.5M1347.4 248.8L1353.6 272.5M1358 297.5C1358.6 299.6 1360.2 307 1361.8 310C1363.3 313 1365.7 315.1 1367.4 315.6C1369.1 316.1 1371 313.4 1371.8 313M1384.2 326.2L1389.9 350M1401 358.8C1401.7 357.5 1403.6 353 1405 351C1406.4 349 1408.1 347.3 1409.2 347C1410.4 346.7 1411.1 347.8 1412 349C1412.9 350.2 1414.4 353.5 1414.9 354.4M1416 380L1421.8 403.8M1423 427.5C1423.6 428.6 1425.4 435 1426.8 434C1428.1 433 1430.3 423.4 1431 421.2M1431.8 395L1434.9 370M1434.9 345L1437.4 320M1438 295L1439.9 270M1439.9 245L1442.4 220M1443 195L1445.5 170M1446.5 146C1446.8 145.6 1447.9 143.5 1448.6 143.5C1449.3 143.5 1449.7 142.6 1450.5 146C1451.3 149.4 1453.1 161 1453.6 164M1453.8 190L1456.8 214.4M1457.4 239.4L1458.6 264.4M1459.2 289.4L1461.8 313.8M1462.4 338.8L1464.9 363.8M1466.8 388C1467.3 389.8 1468.4 396.5 1469.9 398.8C1471.4 401 1473.7 400.3 1475.5 401.2C1477.3 402.2 1480.1 403.9 1481 404.4M1486.8 429.4C1487.4 430.2 1489 436.6 1490.5 434.4C1492 432.2 1495.1 419.3 1496 416.2M1498.6 391.2L1501.8 366.2M1503 341.2L1505.5 316.9M1508 290C1508.5 287.8 1509.8 279.5 1511 277C1512.2 274.5 1513.9 274.7 1514.9 275C1515.9 275.3 1516.4 278.3 1516.8 279M1521 302.5L1526 326.9M1529.9 351.5L1536.8 375.6M1543.6 400.6C1544.3 401.2 1546.8 404.8 1548 404.4C1549.2 404 1549.8 400.9 1551 398C1552.2 395.1 1554.2 388.8 1554.9 387M1557.4 361.9L1562.4 337.5M1564.9 312.5C1565.4 311.1 1567.1 305.8 1568 304C1568.9 302.2 1569.7 302 1570.5 302C1571.3 302 1572.1 302.6 1573 304C1573.9 305.4 1575.5 309.5 1576 310.6M1579.2 336.2L1583.6 360.6M1587.5 385L1596.2 408.8M1610 430C1611 432.3 1614 440.2 1616.2 443.8C1618.5 447.3 1622.5 450 1623.8 451.2M1645 445C1645.8 445.5 1648.3 446.8 1650 448C1651.7 449.2 1653.5 450.9 1655 452.5C1656.5 454.1 1657.8 455.6 1659 457.5C1660.2 459.4 1661.5 462.7 1662 463.8M1668 487.5L1672.5 512.5M1677 537.5L1682.5 562M1695.8 580.8C1696.6 581 1699.2 582.3 1701 582.5C1702.8 582.7 1704.4 582.7 1706.2 582C1708.1 581.3 1710 580.1 1712 578.5C1714 576.9 1717 573.5 1718 572.5M1732.5 566.2L1740 590M1746.8 615C1747.3 615.4 1749 617.3 1750 617.5C1751 617.7 1751.3 617.7 1752.5 616.2C1753.7 614.8 1755.4 611.8 1757 609C1758.6 606.2 1761.2 601.1 1762 599.5M1781.2 588C1782.2 587.2 1785.1 584 1787 583C1788.9 582 1790.8 581.8 1792.5 582C1794.2 582.2 1795.5 583.2 1797 584.5C1798.5 585.8 1800.5 589.1 1801.2 590M1808.8 613C1809.4 614.3 1811.2 619 1812.5 621C1813.8 623 1814.8 624.5 1816.2 625C1817.7 625.5 1819.3 624.8 1821 624C1822.7 623.2 1825.4 620.7 1826.2 620M1842.5 632.5C1843.3 634.4 1845.9 641.4 1847.5 644C1849.1 646.6 1850.3 647 1852 648C1853.7 649 1856.6 649.7 1857.5 650M1871.2 666.2L1878.8 690M1891.2 686.2C1892.1 684.4 1894.6 677.4 1896.2 675C1897.9 672.6 1899.8 671.9 1901.2 672C1902.7 672.1 1904.4 674.9 1905 675.5M1912.5 699.5C1913.1 700.5 1915 704.2 1916 705.5C1917 706.8 1917.8 707.8 1918.8 707.5C1919.8 707.2 1920.6 705.6 1922 703.5C1923.4 701.4 1926.2 696.4 1927 695M1932 670L1939.2 646.2M1952 655.5L1959.2 679.5M1970 702C1970.5 701.8 1972 702 1973 701C1974 700 1974.7 699.5 1976 696C1977.3 692.5 1980 682.7 1980.8 680M1985 655L1992.5 631.2M2001.2 653.8L2005.8 678M2010.5 703C2010.9 704 2012.2 707.8 2013 709C2013.8 710.2 2014.2 711 2015 710.5C2015.8 710 2016.8 708.4 2018 706C2019.2 703.6 2021.3 697.9 2022 696.2M2025.5 671.2L2028.8 646.2M2031.2 622L2033.8 597.5M2036.2 572.5L2040 548M2044.5 523C2045 520.8 2046 513.9 2047.5 510C2049 506.1 2052.7 501.2 2053.8 499.5M2074.5 493.8L2083.8 471.2M2091.2 490.5L2095 515.5M2096.2 541.2L2098 565.5M2099.5 591.2L2101.2 615.5M2102.5 641.2L2105 665.5M2106.2 690.5L2108 715M2110 740C2110.4 741.8 2111.8 748.5 2112.5 751C2113.2 753.5 2113.8 754.7 2114.5 755C2115.2 755.3 2116.1 754.2 2117 753C2117.9 751.8 2119.5 748.8 2120 748M2123 723L2127 698.8M2130 673L2134.5 648.8M2139.5 624C2139.9 623.4 2141.2 621 2142 620.5C2142.8 620 2143.7 619.9 2144.5 621C2145.3 622.1 2146.2 624.5 2147 627C2147.8 629.5 2149.1 634.7 2149.5 636.2M2153.2 662L2157 686.2M2159.2 711.2L2162.5 736.2M2165 761.2C2165.5 762.5 2167.1 767.4 2168 769C2168.9 770.6 2169.5 771.3 2170.5 771C2171.5 770.7 2172.6 768.8 2174 767C2175.4 765.2 2178.2 761.2 2179 760M2190.5 754.5L2198.5 778.5M2203.5 802.5L2211.5 827M2217.5 850.5L2226.8 874.5M2237 896.8C2237.8 897.1 2240.3 898 2242 899C2243.7 900 2245.5 901.5 2247 903C2248.5 904.5 2249.8 906.1 2251 908C2252.2 909.9 2253.5 913.2 2254 914.2M2268.2 933C2269 933.3 2271.5 934.2 2273 935C2274.5 935.8 2275.8 936.5 2277 938C2278.2 939.5 2279.5 941.7 2280.5 944C2281.5 946.3 2282.4 950.5 2282.8 951.8M2287.5 976.8L2291.5 991.8"/>
<path stroke="#1f4a9c" stroke-width="4.6" d="M192.5 1002.4H353.8"/>
<path stroke="#d8121a" stroke-width="4.6" d="M192.5 1077.3H353.8"/>
<path stroke="#000" stroke-width="4.4" d="M192.5 1150.8H218M242.5 1150.8H268M292.5 1150.8H318M342.5 1150.8H353.2"/>
</g>
</svg>
</body></html>
